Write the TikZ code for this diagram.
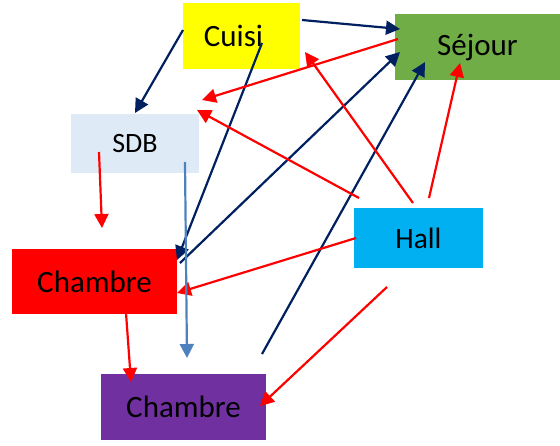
\documentclass[tikz,border=0pt]{standalone}
\usepackage{fontspec}
\setmainfont{Carlito}
\usetikzlibrary{arrows.meta}
\definecolor{roomyellow}{HTML}{FFFF00}
\definecolor{roomgreen}{HTML}{70AD47}
\definecolor{roomlight}{HTML}{DEEBF7}
\definecolor{roomcyan}{HTML}{00B0F0}
\definecolor{roomred}{HTML}{FF0000}
\definecolor{roompurple}{HTML}{7030A0}
\definecolor{linknavy}{HTML}{002060}
\definecolor{linkred}{HTML}{FF0000}
\definecolor{linksteel}{HTML}{4F81BD}
\tikzset{
  room/.style={inner sep=0pt, outer sep=0pt, text=black,
    font=\fontsize{31}{36}\selectfont},
  navylink/.style={draw=linknavy, line width=2.2pt,
    -{Triangle[length=14pt,width=14pt]}, fill=linknavy},
  redlink/.style={draw=linkred, line width=2.2pt,
    -{Triangle[length=14pt,width=14pt]}, fill=linkred},
  steellink/.style={draw=linksteel, line width=2.2pt,
    -{Triangle[length=14pt,width=14pt]}, fill=linksteel},
}
\newcommand{\at}[3]{([xshift=#2pt,yshift=#3pt]#1.center)}
\begin{document}
\begin{tikzpicture}[x=1pt,y=-1pt]
\useasboundingbox (0,0) rectangle (560,445);
% rooms
\node[room, fill=roomyellow, minimum width=117pt, minimum height=66pt] (cuisi) at (241.5,36) {};
\node[room] (cuisitxt) at (233.5,36) {Cuisi};
\node[room, fill=roomgreen, minimum width=165pt, minimum height=66pt] (sejour) at (477.5,47) {Séjour};
\node[room, fill=roomlight, minimum width=128pt, minimum height=59pt] (sdb) at (135,143.5) {\fontsize{28}{32}\selectfont SDB};
\node[room, fill=roomcyan, minimum width=129pt, minimum height=60pt] (hall) at (418.5,238) {\fontsize{29.5}{34}\selectfont Hall};
\node[room, fill=roomred, minimum width=165pt, minimum height=65pt] (chred) at (94.5,281.5) {Chambre};
\node[room, fill=roompurple, minimum width=165pt, minimum height=66pt] (chpurple) at (183.5,407) {Chambre};
% navy links
\draw[navylink] \at{cuisi}{-58.5}{6} -- \at{sdb}{0}{30.5};
\draw[navylink] \at{cuisi}{60.5}{16} -- \at{sejour}{-77.5}{18};
\draw[navylink] \at{cuisi}{20.5}{-7} -- \at{chred}{82.5}{21.5};
\draw[navylink] \at{chred}{85.5}{18.5} -- \at{sejour}{-77.5}{-5};
\draw[navylink] \at{chpurple}{78.5}{53} -- \at{sejour}{-52.5}{-15};
% red links
\draw[redlink] \at{sejour}{-79.5}{8} -- \at{sdb}{67}{43.5};
\draw[redlink] \at{hall}{-5.5}{35} -- \at{cuisi}{63.5}{-16};
\draw[redlink] \at{hall}{-59.5}{40} -- \at{sdb}{62}{33.5};
\draw[redlink] \at{hall}{10.5}{40} -- \at{sejour}{-17.5}{-16};
\draw[redlink] \at{hall}{-62.5}{0} -- \at{chred}{82.5}{-11.5};
\draw[redlink] \at{hall}{-31.5}{-49} -- \at{chpurple}{76.5}{1};
\draw[redlink] \at{sdb}{-36}{-8.5} -- \at{chred}{7.5}{53.5};
\draw[redlink] \at{chred}{31.5}{-31.5} -- \at{chpurple}{-52.5}{25};
% steel blue link
\draw[steellink] \at{sdb}{50}{-18.5} -- \at{chpurple}{3.5}{49};
\end{tikzpicture}
\end{document}
